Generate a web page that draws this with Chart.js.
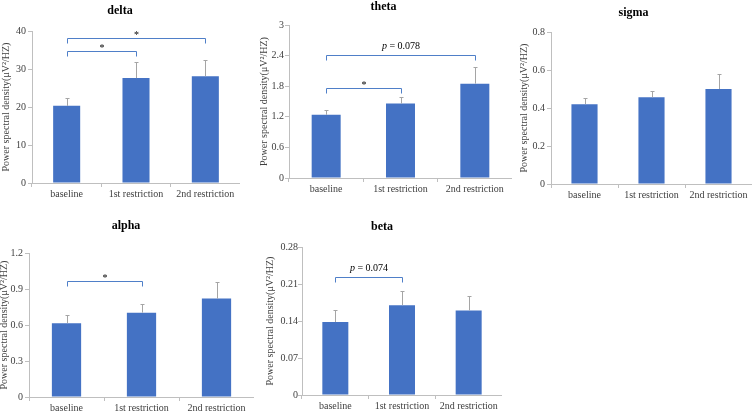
<!DOCTYPE html>
<html>
<head>
<meta charset="utf-8">
<script src="https://cdn.jsdelivr.net/npm/chart.js@4.4.0/dist/chart.umd.min.js"></script>
<style>
html, body { margin: 0; padding: 0; background: #fff; width: 752px; height: 413px; overflow: hidden; }
canvas { position: absolute; }
</style>
</head>
<body>
<canvas id="delta"></canvas>
<canvas id="theta"></canvas>
<canvas id="sigma"></canvas>
<canvas id="alpha"></canvas>
<canvas id="beta"></canvas>
<script>
// Data (mean and upper error per condition)
const categories = ['baseline', '1st restriction', '2nd restriction'];

const deltaMean = [20.3, 27.6, 28.1];
const deltaErr = [2.1, 4.2, 4.2];
const deltaTicks = [0, 10, 20, 30, 40];
const deltaBrackets = [
    { from: 0, to: 2, y: 38.2, label: '*' },
    { from: 0, to: 1, y: 34.7, label: '*' }
];

const thetaMean = [1.24, 1.46, 1.85];
const thetaErr = [0.1, 0.12, 0.33];
const thetaTicks = [0, 0.6, 1.2, 1.8, 2.4, 3];
const thetaBrackets = [
    { from: 0, to: 2, y: 2.41, label: 'p = 0.078' },
    { from: 0, to: 1, y: 1.755, label: '*' }
];

const sigmaMean = [0.42, 0.456, 0.5];
const sigmaErr = [0.035, 0.033, 0.078];
const sigmaTicks = [0, 0.2, 0.4, 0.6, 0.8];

const alphaMean = [0.615, 0.703, 0.82];
const alphaErr = [0.072, 0.075, 0.135];
const alphaTicks = [0, 0.3, 0.6, 0.9, 1.2];
const alphaBrackets = [
    { from: 0, to: 1, y: 0.964, label: '*' }
];

const betaMean = [0.138, 0.17, 0.16];
const betaErr = [0.023, 0.027, 0.027];
const betaTicks = [0, 0.07, 0.14, 0.21, 0.28];
const betaBrackets = [
    { from: 0, to: 1, y: 0.2234, label: 'p = 0.074' }
];

const yTitle = 'Power spectral density(\u03bcV\u00b2/HZ)';

const SERIF = "'Liberation Serif', 'Times New Roman', serif";
Chart.defaults.font.family = SERIF;
Chart.defaults.font.size = 10;
Chart.defaults.color = '#404040';

// error bars + significance brackets
const markers = {
    id: 'markers',
    afterDatasetsDraw(chart, args, opts) {
        const { ctx } = chart;
        const x = chart.scales.x, y = chart.scales.y;
        const vals = chart.data.datasets[0].data;
        ctx.save();
        ctx.lineWidth = 1;
        ctx.strokeStyle = '#a5a5a5';
        (opts.errors || []).forEach((e, i) => {
            const cx = Math.round(x.getPixelForValue(i)) + 0.5;
            const y0 = y.getPixelForValue(vals[i]);
            const y1 = Math.round(y.getPixelForValue(vals[i] + e)) + 0.5;
            ctx.beginPath();
            ctx.moveTo(cx, y0);
            ctx.lineTo(cx, y1);
            ctx.moveTo(cx - 2, y1);
            ctx.lineTo(cx + 2, y1);
            ctx.stroke();
        });
        ctx.strokeStyle = '#4f7fc8';
        (opts.brackets || []).forEach(b => {
            const x0 = Math.round(x.getPixelForValue(b.from)) + 0.5;
            const x1 = Math.round(x.getPixelForValue(b.to)) + 0.5;
            const by = Math.round(y.getPixelForValue(b.y)) + 0.5;
            ctx.beginPath();
            ctx.moveTo(x0, by + 5);
            ctx.lineTo(x0, by);
            ctx.lineTo(x1, by);
            ctx.lineTo(x1, by + 5);
            ctx.stroke();
            const mid = (x0 + x1) / 2;
            ctx.fillStyle = '#000';
            if (b.label.startsWith('p')) {
                const rest = b.label.slice(1);
                ctx.textBaseline = 'bottom';
                ctx.font = 'italic 10px ' + SERIF;
                const wp = ctx.measureText('p').width;
                ctx.font = '10px ' + SERIF;
                const wr = ctx.measureText(rest).width;
                const sx = mid - (wp + wr) / 2;
                ctx.textAlign = 'left';
                ctx.font = 'italic 10px ' + SERIF;
                ctx.fillText('p', sx, by - 4);
                ctx.font = '10px ' + SERIF;
                ctx.fillText(rest, sx + wp, by - 4);
            } else {
                ctx.textAlign = 'center';
                ctx.textBaseline = 'alphabetic';
                ctx.font = '10px ' + SERIF;
                ctx.fillText(b.label, mid, by - 1);
            }
        });
        ctx.restore();
    }
};

function makeChart(id, title, means, errs, ticks, brackets, box) {
    const cv = document.getElementById(id);
    cv.width = box.w;
    cv.height = box.h;
    cv.style.left = box.left + 'px';
    cv.style.top = box.top + 'px';
    return new Chart(cv, {
        type: 'bar',
        data: {
            labels: categories,
            datasets: [{
                data: means,
                backgroundColor: '#4472c4',
                barPercentage: 0.39,
                categoryPercentage: 1
            }]
        },
        plugins: [markers],
        options: {
            responsive: false,
            animation: false,
            layout: { padding: 0 },
            plugins: {
                legend: { display: false },
                tooltip: { enabled: false },
                title: {
                    display: true,
                    text: title,
                    color: '#000',
                    font: { size: 12, weight: 'bold' },
                    padding: { top: box.tt, bottom: box.tb }
                },
                markers: { errors: errs, brackets: brackets }
            },
            scales: {
                x: {
                    grid: { drawOnChartArea: false, tickLength: 4, color: '#bfbfbf' },
                    border: { color: '#bfbfbf' },
                    ticks: { padding: 1, maxRotation: 0 },
                    afterFit(axis) { axis.height = 20; }
                },
                y: {
                    min: ticks[0],
                    max: ticks[ticks.length - 1],
                    grid: { drawOnChartArea: false, tickLength: 4, color: '#bfbfbf' },
                    border: { color: '#bfbfbf' },
                    ticks: { padding: box.lp, callback: v => String(+v.toFixed(2)) },
                    afterBuildTicks(axis) { axis.ticks = ticks.map(v => ({ value: v })); },
                    afterFit(axis) { axis.width = box.yw; },
                    title: { display: true, text: yTitle, padding: { top: box.tp, bottom: 0 } }
                }
            }
        }
    });
}

makeChart('delta', 'delta', deltaMean, deltaErr, deltaTicks, deltaBrackets,
    { left: 0, top: 0, w: 240, h: 203, yw: 32, tt: 4, tb: 12.6, tp: 0, lp: 2 });
makeChart('theta', 'theta', thetaMean, thetaErr, thetaTicks, thetaBrackets,
    { left: 255, top: 0, w: 257, h: 198, yw: 34, tt: 0, tb: 10.6, tp: 3, lp: 1 });
makeChart('sigma', 'sigma', sigmaMean, sigmaErr, sigmaTicks, [],
    { left: 515, top: 0, w: 237, h: 204, yw: 36, tt: 6, tb: 11.6, tp: 3, lp: 2 });
makeChart('alpha', 'alpha', alphaMean, alphaErr, alphaTicks, alphaBrackets,
    { left: -2, top: 210, w: 256, h: 207, yw: 31, tt: 8.8, tb: 19.8, tp: 0, lp: 2 });
makeChart('beta', 'beta', betaMean, betaErr, betaTicks, betaBrackets,
    { left: 262, top: 210, w: 240, h: 205, yw: 40, tt: 9.8, tb: 12.8, tp: 2, lp: 0 });
</script>
</body>
</html>
